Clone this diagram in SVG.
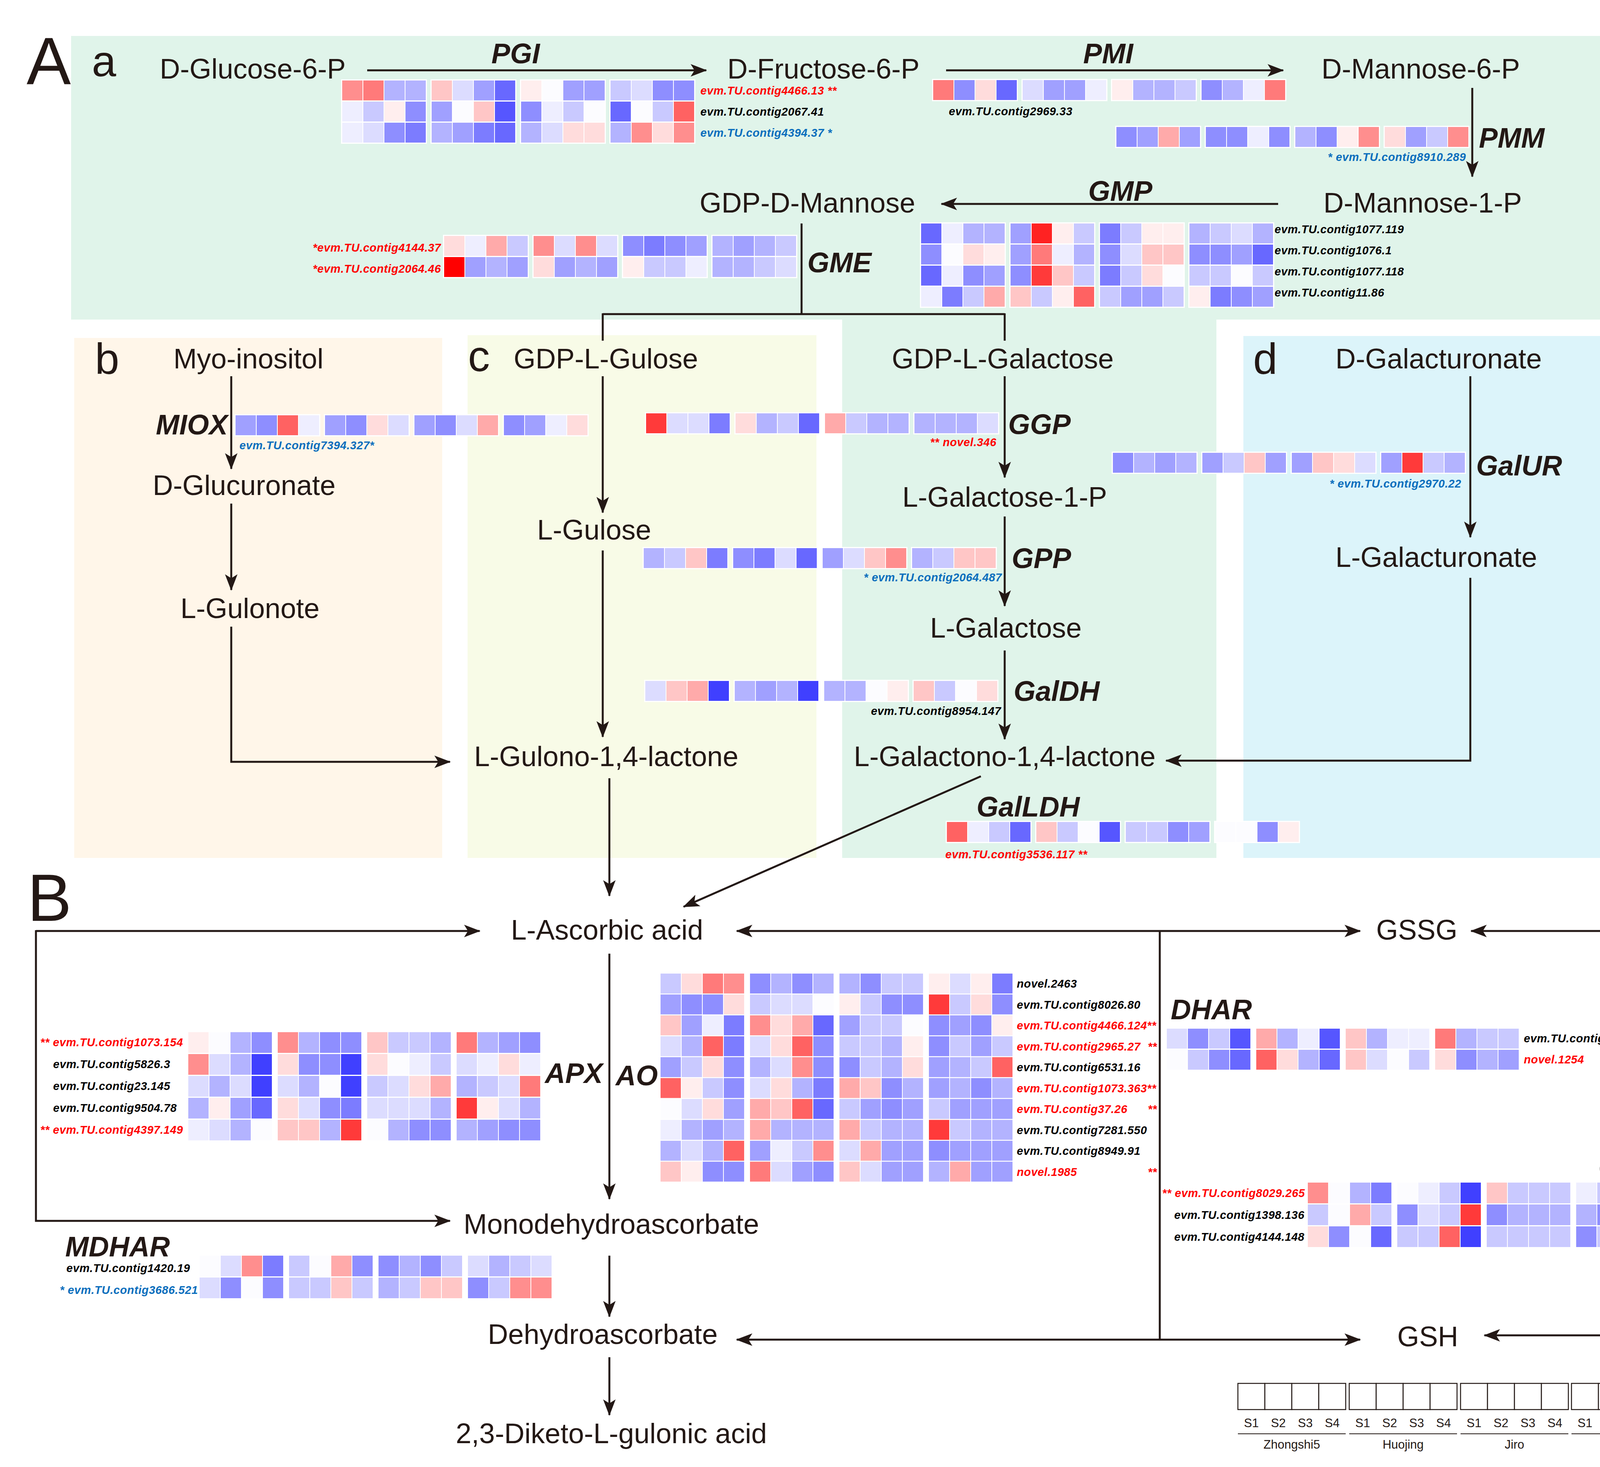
<svg xmlns="http://www.w3.org/2000/svg" width="4379" height="3755" viewBox="0 0 4379 3755">
<style>
text{font-family:"Liberation Sans",Arial,sans-serif}
.n{font-size:72px;fill:#231815;text-anchor:middle}
.e{font-size:72px;fill:#231815;font-weight:bold;font-style:italic}
.pl{font-size:170px;fill:#231815}
.sl{font-size:112px;fill:#231815}
.l{font-size:29px;font-weight:bold;font-style:italic;fill:#000;letter-spacing:0.6px}
.red{fill:#ff0000}.blu{fill:#0a6ebd}
.end{text-anchor:end}.mid{text-anchor:middle}
.hm .fr{fill:#fff}
.rw rect{width:52px;height:51px}
.tall .rw rect{height:53px}
.r9{fill:#ff0000}.r8{fill:#ff2222}.r7{fill:#ff3a3a}.r6{fill:#ff6262}.r5{fill:#ff7a7a}.r4{fill:#ff8e8e}.r3{fill:#ffaaaa}.r2{fill:#ffc6c6}.r1{fill:#ffdcdc}.r0{fill:#ffeeee}
.w{fill:#fcfcff}.b0{fill:#eeeeff}.b1{fill:#dcdcff}.b2{fill:#c9c9ff}.b3{fill:#b3b3ff}.b4{fill:#a0a0ff}.b5{fill:#8e8eff}.b6{fill:#7c7cff}.b7{fill:#6868ff}.b8{fill:#5656ff}.b9{fill:#4040ff}
.cn path{fill:none;stroke:#231815;stroke-width:5}
.ar{marker-end:url(#ah)}
.ar2{marker-start:url(#ah);marker-end:url(#ah)}
.lg rect{fill:#fff;stroke:#231815;stroke-width:2.5}
.lg text{font-size:31px;fill:#231815;text-anchor:middle}
.lg line{stroke:#231815;stroke-width:2}
.cb text{font-size:58px;fill:#231815}
</style>
<defs>
<marker id="ah" markerUnits="userSpaceOnUse" markerWidth="44" markerHeight="36" viewBox="0 0 44 36" refX="40" refY="18" orient="auto-start-reverse"><path d="M0,2 L42,18 L0,34 L10,18 Z" fill="#231815"/></marker>
<linearGradient id="cbg" x1="0" y1="0" x2="0" y2="1">
<stop offset="0" stop-color="#ff0000"/><stop offset="0.25" stop-color="#ff9a9a"/><stop offset="0.5" stop-color="#ffffff"/><stop offset="0.75" stop-color="#9a9aff"/><stop offset="1" stop-color="#1a1aff"/>
</linearGradient>
</defs>
<rect width="4379" height="3755" fill="#fff"/>
<g id="panels">
<path d="M182,92 H4097 V818 H3114 V2196 H2156 V818 H182 Z" fill="#e0f4ea"/>
<rect x="190" y="865" width="942" height="1331" fill="#fff6e9"/>
<rect x="1197" y="858" width="893" height="1338" fill="#f8fbe7"/>
<rect x="3183" y="860" width="914" height="1336" fill="#dcf4fa"/>
</g>
<g id="panel-labels">
<text class="pl" x="68" y="215">A</text>
<text class="sl" x="235" y="195">a</text>
<text class="sl" x="243" y="957">b</text>
<text class="sl" x="1198" y="950">c</text>
<text class="sl" x="3208" y="957">d</text>
<text class="pl" x="70" y="2357">B</text>
</g>
<g id="connectors" class="cn">
<path class="ar" d="M940,180 H1808"/>
<path class="ar" d="M2422,180 H3285"/>
<path class="ar" d="M3769,225 V452"/>
<path class="ar" d="M3272,522 H2410"/>
<path d="M2052,572 V804 M1543,804 H2572 M1543,802 V872 M2572,802 V872"/>
<path class="ar" d="M592,963 V1200"/>
<path class="ar" d="M592,1289 V1510"/>
<path class="ar" d="M592,1604 V1950 H1152"/>
<path class="ar" d="M1543,963 V1312"/>
<path class="ar" d="M1543,1409 V1886"/>
<path class="ar" d="M2572,963 V1222"/>
<path class="ar" d="M2572,1322 V1551"/>
<path class="ar" d="M2572,1665 V1892"/>
<path class="ar" d="M3764,963 V1375"/>
<path class="ar" d="M3764,1479 V1947 H2985"/>
<path class="ar" d="M2511,1987 L1750,2321"/>
<path class="ar" d="M1560,1992 V2293"/>
<path class="ar" d="M92,2383 H1228"/>
<path class="ar" d="M92,2381 V3125 H1152"/>
<path class="ar" d="M1560,2441 V3069"/>
<path class="ar" d="M1560,3214 V3370"/>
<path class="ar" d="M1560,3474 V3622"/>
<path class="ar2" d="M1886,2383 H3482"/>
<path class="ar2" d="M1886,3429 H3482"/>
<path d="M2969,2383 V3429"/>
<path class="ar2" d="M3766,2383 H4277 V3418 H3800"/>
</g>
<g id="n-glc6p"><text class="n" x="647" y="201">D-Glucose-6-P</text></g>
<g id="n-fru6p"><text class="n" x="2108" y="201">D-Fructose-6-P</text></g>
<g id="n-man6p"><text class="n" x="3637" y="201">D-Mannose-6-P</text></g>
<g id="n-man1p"><text class="n" x="3642" y="544">D-Mannose-1-P</text></g>
<g id="n-gdpman"><text class="n" x="2067" y="544">GDP-D-Mannose</text></g>
<g id="n-myo"><text class="n" x="636" y="943">Myo-inositol</text></g>
<g id="n-gdpgul"><text class="n" x="1551" y="943">GDP-L-Gulose</text></g>
<g id="n-gdpgal"><text class="n" x="2567" y="943">GDP-L-Galactose</text></g>
<g id="n-dgalur"><text class="n" x="3683" y="943">D-Galacturonate</text></g>
<g id="n-glcur"><text class="n" x="625" y="1267">D-Glucuronate</text></g>
<g id="n-gulonote"><text class="n" x="640" y="1582">L-Gulonote</text></g>
<g id="n-lgul"><text class="n" x="1521" y="1381">L-Gulose</text></g>
<g id="n-gal1p"><text class="n" x="2572" y="1297">L-Galactose-1-P</text></g>
<g id="n-lgal"><text class="n" x="2575" y="1632">L-Galactose</text></g>
<g id="n-gulono"><text class="n" x="1552" y="1961">L-Gulono-1,4-lactone</text></g>
<g id="n-galono"><text class="n" x="2572" y="1961">L-Galactono-1,4-lactone</text></g>
<g id="n-lgalur"><text class="n" x="3677" y="1451">L-Galacturonate</text></g>
<g id="n-asa"><text class="n" x="1554" y="2405">L-Ascorbic acid</text></g>
<g id="n-gssg"><text class="n" x="3627" y="2405">GSSG</text></g>
<g id="n-mdha"><text class="n" x="1565" y="3158">Monodehydroascorbate</text></g>
<g id="n-dha"><text class="n" x="1543" y="3440">Dehydroascorbate</text></g>
<g id="n-gsh"><text class="n" x="3655" y="3446">GSH</text></g>
<g id="n-dkg"><text class="n" x="1565" y="3694">2,3-Diketo-L-gulonic acid</text></g>

<g id="pgi">
<text class="e mid" x="1320" y="162">PGI</text>
<g class="hm" transform="translate(876,206)">
<rect class="fr" x="-3" y="-3" width="220" height="165"/><rect class="fr" x="226" y="-3" width="220" height="165"/><rect class="fr" x="455" y="-3" width="220" height="165"/><rect class="fr" x="684" y="-3" width="220" height="165"/>
<g class="rw"><rect x="0" class="r4"/><rect x="54" class="r5"/><rect x="108" class="b3"/><rect x="162" class="b3"/><rect x="229" class="r2"/><rect x="283" class="b1"/><rect x="337" class="b4"/><rect x="391" class="b7"/><rect x="458" class="r0"/><rect x="512" class="w"/><rect x="566" class="b4"/><rect x="620" class="b4"/><rect x="687" class="b2"/><rect x="741" class="b1"/><rect x="795" class="b5"/><rect x="849" class="b5"/></g>
<g class="rw" transform="translate(0,54)"><rect x="0" class="b0"/><rect x="54" class="b2"/><rect x="108" class="r0"/><rect x="162" class="b5"/><rect x="229" class="b4"/><rect x="283" class="w"/><rect x="337" class="r2"/><rect x="391" class="b8"/><rect x="458" class="b5"/><rect x="512" class="b0"/><rect x="566" class="b2"/><rect x="620" class="w"/><rect x="687" class="b7"/><rect x="741" class="w"/><rect x="795" class="b2"/><rect x="849" class="r6"/></g>
<g class="rw" transform="translate(0,108)"><rect x="0" class="b0"/><rect x="54" class="b1"/><rect x="108" class="b5"/><rect x="162" class="b6"/><rect x="229" class="b3"/><rect x="283" class="b4"/><rect x="337" class="b6"/><rect x="391" class="b7"/><rect x="458" class="b3"/><rect x="512" class="b1"/><rect x="566" class="r1"/><rect x="620" class="r1"/><rect x="687" class="b3"/><rect x="741" class="r4"/><rect x="795" class="r1"/><rect x="849" class="r4"/></g>
</g>
<text class="l red" x="1793" y="242">evm.TU.contig4466.13 **</text>
<text class="l" x="1793" y="296">evm.TU.contig2067.41</text>
<text class="l blu" x="1793" y="350">evm.TU.contig4394.37 *</text>
</g>

<g id="pmi">
<text class="e mid" x="2837" y="162">PMI</text>
<g class="hm" transform="translate(2389,205)">
<rect class="fr" x="-3" y="-3" width="220" height="57"/><rect class="fr" x="226" y="-3" width="220" height="57"/><rect class="fr" x="455" y="-3" width="220" height="57"/><rect class="fr" x="684" y="-3" width="220" height="57"/>
<g class="rw"><rect x="0" class="r5"/><rect x="54" class="b5"/><rect x="108" class="r1"/><rect x="162" class="b7"/><rect x="229" class="b1"/><rect x="283" class="b4"/><rect x="337" class="b4"/><rect x="391" class="b0"/><rect x="458" class="r0"/><rect x="512" class="b3"/><rect x="566" class="b3"/><rect x="620" class="b2"/><rect x="687" class="b5"/><rect x="741" class="b3"/><rect x="795" class="b0"/><rect x="849" class="r5"/></g>
</g>
<text class="l" x="2429" y="295">evm.TU.contig2969.33</text>
</g>

<g id="pmm">
<text class="e" x="3786" y="378">PMM</text>
<g class="hm" transform="translate(2858,325)">
<rect class="fr" x="-3" y="-3" width="220" height="57"/><rect class="fr" x="226" y="-3" width="220" height="57"/><rect class="fr" x="455" y="-3" width="220" height="57"/><rect class="fr" x="684" y="-3" width="220" height="57"/>
<g class="rw"><rect x="0" class="b5"/><rect x="54" class="b4"/><rect x="108" class="r3"/><rect x="162" class="b4"/><rect x="229" class="b5"/><rect x="283" class="b5"/><rect x="337" class="b0"/><rect x="391" class="b5"/><rect x="458" class="b3"/><rect x="512" class="b5"/><rect x="566" class="r0"/><rect x="620" class="r4"/><rect x="687" class="r1"/><rect x="741" class="b4"/><rect x="795" class="b2"/><rect x="849" class="r4"/></g>
</g>
<text class="l blu end" x="3753" y="412">* evm.TU.contig8910.289</text>
</g>

<g id="gmp">
<text class="e mid" x="2868" y="514">GMP</text>
<g class="hm" transform="translate(2358,572)">
<rect class="fr" x="-3" y="-3" width="220" height="219"/><rect class="fr" x="226" y="-3" width="220" height="219"/><rect class="fr" x="455" y="-3" width="220" height="219"/><rect class="fr" x="684" y="-3" width="220" height="219"/>
<g class="rw"><rect x="0" class="b7"/><rect x="54" class="b0"/><rect x="108" class="b3"/><rect x="162" class="b3"/><rect x="229" class="b4"/><rect x="283" class="r8"/><rect x="337" class="r0"/><rect x="391" class="b2"/><rect x="458" class="b6"/><rect x="512" class="b2"/><rect x="566" class="r0"/><rect x="620" class="r0"/><rect x="687" class="b3"/><rect x="741" class="b2"/><rect x="795" class="b1"/><rect x="849" class="b3"/></g>
<g class="rw" transform="translate(0,54)"><rect x="0" class="b5"/><rect x="54" class="w"/><rect x="108" class="r1"/><rect x="162" class="r0"/><rect x="229" class="b4"/><rect x="283" class="r5"/><rect x="337" class="b0"/><rect x="391" class="b3"/><rect x="458" class="b5"/><rect x="512" class="b1"/><rect x="566" class="r2"/><rect x="620" class="r2"/><rect x="687" class="b5"/><rect x="741" class="b5"/><rect x="795" class="b4"/><rect x="849" class="b7"/></g>
<g class="rw" transform="translate(0,108)"><rect x="0" class="b7"/><rect x="54" class="b0"/><rect x="108" class="b5"/><rect x="162" class="b4"/><rect x="229" class="b5"/><rect x="283" class="r7"/><rect x="337" class="r2"/><rect x="391" class="b2"/><rect x="458" class="b6"/><rect x="512" class="b2"/><rect x="566" class="r1"/><rect x="620" class="w"/><rect x="687" class="b2"/><rect x="741" class="b2"/><rect x="795" class="w"/><rect x="849" class="b2"/></g>
<g class="rw" transform="translate(0,162)"><rect x="0" class="b0"/><rect x="54" class="b6"/><rect x="108" class="b2"/><rect x="162" class="r3"/><rect x="229" class="r2"/><rect x="283" class="b2"/><rect x="337" class="r0"/><rect x="391" class="r6"/><rect x="458" class="b2"/><rect x="512" class="b4"/><rect x="566" class="b4"/><rect x="620" class="b2"/><rect x="687" class="r0"/><rect x="741" class="b6"/><rect x="795" class="b5"/><rect x="849" class="b4"/></g>
</g>
<text class="l" x="3263" y="597">evm.TU.contig1077.119</text>
<text class="l" x="3263" y="651">evm.TU.contig1076.1</text>
<text class="l" x="3263" y="705">evm.TU.contig1077.118</text>
<text class="l" x="3263" y="759">evm.TU.contig11.86</text>
</g>

<g id="gme">
<text class="e" x="2067" y="697">GME</text>
<g class="hm" transform="translate(1137,604)">
<rect class="fr" x="-3" y="-3" width="220" height="111"/><rect class="fr" x="226" y="-3" width="220" height="111"/><rect class="fr" x="455" y="-3" width="220" height="111"/><rect class="fr" x="684" y="-3" width="220" height="111"/>
<g class="rw"><rect x="0" class="r1"/><rect x="54" class="b0"/><rect x="108" class="r3"/><rect x="162" class="b2"/><rect x="229" class="r4"/><rect x="283" class="b1"/><rect x="337" class="r4"/><rect x="391" class="b1"/><rect x="458" class="b5"/><rect x="512" class="b6"/><rect x="566" class="b5"/><rect x="620" class="b4"/><rect x="687" class="b3"/><rect x="741" class="b4"/><rect x="795" class="b3"/><rect x="849" class="b2"/></g>
<g class="rw" transform="translate(0,54)"><rect x="0" class="r9"/><rect x="54" class="b4"/><rect x="108" class="b3"/><rect x="162" class="b4"/><rect x="229" class="r1"/><rect x="283" class="b4"/><rect x="337" class="b3"/><rect x="391" class="b4"/><rect x="458" class="r0"/><rect x="512" class="b2"/><rect x="566" class="b2"/><rect x="620" class="b0"/><rect x="687" class="b3"/><rect x="741" class="b3"/><rect x="795" class="b2"/><rect x="849" class="b1"/></g>
</g>
<text class="l red end" x="1129" y="644">*evm.TU.contig4144.37</text>
<text class="l red end" x="1129" y="698">*evm.TU.contig2064.46</text>
</g>

<g id="miox">
<text class="e end" x="583" y="1112">MIOX</text>
<g class="hm" transform="translate(603,1063)">
<rect class="fr" x="-3" y="-3" width="220" height="57"/><rect class="fr" x="226" y="-3" width="220" height="57"/><rect class="fr" x="455" y="-3" width="220" height="57"/><rect class="fr" x="684" y="-3" width="220" height="57"/>
<g class="rw"><rect x="0" class="b4"/><rect x="54" class="b5"/><rect x="108" class="r6"/><rect x="162" class="b0"/><rect x="229" class="b4"/><rect x="283" class="b5"/><rect x="337" class="r1"/><rect x="391" class="b1"/><rect x="458" class="b4"/><rect x="512" class="b5"/><rect x="566" class="b1"/><rect x="620" class="r3"/><rect x="687" class="b5"/><rect x="741" class="b4"/><rect x="795" class="b0"/><rect x="849" class="r1"/></g>
</g>
<text class="l blu" x="613" y="1150">evm.TU.contig7394.327*</text>
</g>

<g id="ggp">
<text class="e" x="2581" y="1111">GGP</text>
<g class="hm" transform="translate(1654,1058)">
<rect class="fr" x="-3" y="-3" width="220" height="57"/><rect class="fr" x="226" y="-3" width="220" height="57"/><rect class="fr" x="455" y="-3" width="220" height="57"/><rect class="fr" x="684" y="-3" width="220" height="57"/>
<g class="rw"><rect x="0" class="r7"/><rect x="54" class="b1"/><rect x="108" class="b1"/><rect x="162" class="b6"/><rect x="229" class="r1"/><rect x="283" class="b3"/><rect x="337" class="b2"/><rect x="391" class="b7"/><rect x="458" class="r3"/><rect x="512" class="b2"/><rect x="566" class="b3"/><rect x="620" class="b3"/><rect x="687" class="b3"/><rect x="741" class="b3"/><rect x="795" class="b3"/><rect x="849" class="b1"/></g>
</g>
<text class="l red end" x="2551" y="1142">** novel.346</text>
</g>

<g id="galur">
<text class="e" x="3779" y="1217">GalUR</text>
<g class="hm" transform="translate(2849,1159)">
<rect class="fr" x="-3" y="-3" width="220" height="57"/><rect class="fr" x="226" y="-3" width="220" height="57"/><rect class="fr" x="455" y="-3" width="220" height="57"/><rect class="fr" x="684" y="-3" width="220" height="57"/>
<g class="rw"><rect x="0" class="b5"/><rect x="54" class="b3"/><rect x="108" class="b4"/><rect x="162" class="b3"/><rect x="229" class="b4"/><rect x="283" class="b2"/><rect x="337" class="r2"/><rect x="391" class="b4"/><rect x="458" class="b4"/><rect x="512" class="r2"/><rect x="566" class="r1"/><rect x="620" class="b1"/><rect x="687" class="b4"/><rect x="741" class="r7"/><rect x="795" class="b2"/><rect x="849" class="b3"/></g>
</g>
<text class="l blu end" x="3741" y="1248">* evm.TU.contig2970.22</text>
</g>

<g id="gpp">
<text class="e" x="2590" y="1454">GPP</text>
<g class="hm" transform="translate(1648,1403)">
<rect class="fr" x="-3" y="-3" width="220" height="57"/><rect class="fr" x="226" y="-3" width="220" height="57"/><rect class="fr" x="455" y="-3" width="220" height="57"/><rect class="fr" x="684" y="-3" width="220" height="57"/>
<g class="rw"><rect x="0" class="b3"/><rect x="54" class="b2"/><rect x="108" class="r2"/><rect x="162" class="b6"/><rect x="229" class="b5"/><rect x="283" class="b6"/><rect x="337" class="b1"/><rect x="391" class="b7"/><rect x="458" class="b4"/><rect x="512" class="b1"/><rect x="566" class="r2"/><rect x="620" class="r4"/><rect x="687" class="b3"/><rect x="741" class="b2"/><rect x="795" class="r2"/><rect x="849" class="r2"/></g>
</g>
<text class="l blu end" x="2565" y="1488">* evm.TU.contig2064.487</text>
</g>

<g id="galdh">
<text class="e" x="2595" y="1794">GalDH</text>
<g class="hm" transform="translate(1652,1743)">
<rect class="fr" x="-3" y="-3" width="220" height="57"/><rect class="fr" x="226" y="-3" width="220" height="57"/><rect class="fr" x="455" y="-3" width="220" height="57"/><rect class="fr" x="684" y="-3" width="220" height="57"/>
<g class="rw"><rect x="0" class="b1"/><rect x="54" class="r2"/><rect x="108" class="r3"/><rect x="162" class="b9"/><rect x="229" class="b3"/><rect x="283" class="b4"/><rect x="337" class="b3"/><rect x="391" class="b9"/><rect x="458" class="b3"/><rect x="512" class="b3"/><rect x="566" class="w"/><rect x="620" class="r0"/><rect x="687" class="r2"/><rect x="741" class="b2"/><rect x="795" class="w"/><rect x="849" class="r1"/></g>
</g>
<text class="l end" x="2563" y="1830">evm.TU.contig8954.147</text>
</g>

<g id="galldh">
<text class="e" x="2500" y="2090">GalLDH</text>
<g class="hm" transform="translate(2424,2104)">
<rect class="fr" x="-3" y="-3" width="220" height="57"/><rect class="fr" x="226" y="-3" width="220" height="57"/><rect class="fr" x="455" y="-3" width="220" height="57"/><rect class="fr" x="684" y="-3" width="220" height="57"/>
<g class="rw"><rect x="0" class="r6"/><rect x="54" class="b0"/><rect x="108" class="b2"/><rect x="162" class="b7"/><rect x="229" class="r2"/><rect x="283" class="b2"/><rect x="337" class="w"/><rect x="391" class="b8"/><rect x="458" class="b2"/><rect x="512" class="b2"/><rect x="566" class="b5"/><rect x="620" class="b4"/><rect x="687" class="w"/><rect x="741" class="w"/><rect x="795" class="b5"/><rect x="849" class="r0"/></g>
</g>
<text class="l red" x="2420" y="2197">evm.TU.contig3536.117 **</text>
</g>

<g id="colorbar" class="cb">
<rect x="4144" y="1027" width="73" height="368" fill="url(#cbg)"/>
<g stroke="#e8e8e8" stroke-width="4"><path d="M4144,1044h8M4209,1044h8M4144,1128h8M4209,1128h8M4144,1212h8M4209,1212h8M4144,1296h8M4209,1296h8M4144,1380h8M4209,1380h8"/></g>
<text x="4232" y="1065">4</text>
<text x="4232" y="1149">2</text>
<text x="4232" y="1233">0</text>
<text x="4220" y="1317">−2</text>
<text x="4220" y="1401">−4</text>
</g>

<g id="apx">
<text class="e" x="1395" y="2772">APX</text>
<g class="hm tall" transform="translate(482,2642)">
<rect class="fr" x="-3" y="-3" width="220" height="283"/><rect class="fr" x="226" y="-3" width="220" height="283"/><rect class="fr" x="455" y="-3" width="220" height="283"/><rect class="fr" x="684" y="-3" width="220" height="283"/>
<g class="rw"><rect x="0" class="r0"/><rect x="54" class="w"/><rect x="108" class="b3"/><rect x="162" class="b5"/><rect x="229" class="r4"/><rect x="283" class="b3"/><rect x="337" class="b5"/><rect x="391" class="b5"/><rect x="458" class="r2"/><rect x="512" class="b2"/><rect x="566" class="b2"/><rect x="620" class="b3"/><rect x="687" class="r5"/><rect x="741" class="b3"/><rect x="795" class="b4"/><rect x="849" class="b5"/></g>
<g class="rw" transform="translate(0,56)"><rect x="0" class="r4"/><rect x="54" class="b1"/><rect x="108" class="b3"/><rect x="162" class="b9"/><rect x="229" class="r1"/><rect x="283" class="b5"/><rect x="337" class="b5"/><rect x="391" class="b9"/><rect x="458" class="r1"/><rect x="512" class="w"/><rect x="566" class="b0"/><rect x="620" class="b2"/><rect x="687" class="b1"/><rect x="741" class="b0"/><rect x="795" class="r1"/><rect x="849" class="b0"/></g>
<g class="rw" transform="translate(0,112)"><rect x="0" class="b1"/><rect x="54" class="b3"/><rect x="108" class="b1"/><rect x="162" class="b9"/><rect x="229" class="b1"/><rect x="283" class="b3"/><rect x="337" class="w"/><rect x="391" class="b9"/><rect x="458" class="b2"/><rect x="512" class="b1"/><rect x="566" class="r1"/><rect x="620" class="r3"/><rect x="687" class="b3"/><rect x="741" class="b2"/><rect x="795" class="b1"/><rect x="849" class="r5"/></g>
<g class="rw" transform="translate(0,168)"><rect x="0" class="b3"/><rect x="54" class="r0"/><rect x="108" class="b4"/><rect x="162" class="b7"/><rect x="229" class="r1"/><rect x="283" class="b1"/><rect x="337" class="b5"/><rect x="391" class="b6"/><rect x="458" class="b1"/><rect x="512" class="b1"/><rect x="566" class="b1"/><rect x="620" class="b3"/><rect x="687" class="r7"/><rect x="741" class="r0"/><rect x="795" class="b1"/><rect x="849" class="b3"/></g>
<g class="rw" transform="translate(0,224)"><rect x="0" class="b0"/><rect x="54" class="b1"/><rect x="108" class="b3"/><rect x="162" class="w"/><rect x="229" class="r2"/><rect x="283" class="r2"/><rect x="337" class="b3"/><rect x="391" class="r7"/><rect x="458" class="w"/><rect x="512" class="b3"/><rect x="566" class="b5"/><rect x="620" class="b5"/><rect x="687" class="b3"/><rect x="741" class="b4"/><rect x="795" class="b5"/><rect x="849" class="b5"/></g>
</g>
<text class="l red" x="103" y="2678">** evm.TU.contig1073.154</text>
<text class="l" x="136" y="2734">evm.TU.contig5826.3</text>
<text class="l" x="136" y="2790">evm.TU.contig23.145</text>
<text class="l" x="136" y="2846">evm.TU.contig9504.78</text>
<text class="l red" x="103" y="2902">** evm.TU.contig4397.149</text>
</g>

<g id="ao">
<text class="e" x="1576" y="2778">AO</text>
<g class="hm" transform="translate(1691,2492)">
<rect class="fr" x="-3" y="-3" width="220" height="538"/><rect class="fr" x="226" y="-3" width="220" height="538"/><rect class="fr" x="455" y="-3" width="220" height="538"/><rect class="fr" x="684" y="-3" width="220" height="538"/>
<g class="rw"><rect x="0" class="b2"/><rect x="54" class="r1"/><rect x="108" class="r5"/><rect x="162" class="r4"/><rect x="229" class="b5"/><rect x="283" class="b3"/><rect x="337" class="b5"/><rect x="391" class="b3"/><rect x="458" class="b3"/><rect x="512" class="b5"/><rect x="566" class="b2"/><rect x="620" class="b2"/><rect x="687" class="r0"/><rect x="741" class="b1"/><rect x="795" class="r0"/><rect x="849" class="b6"/></g>
<g class="rw" transform="translate(0,53.5)"><rect x="0" class="b4"/><rect x="54" class="b5"/><rect x="108" class="b5"/><rect x="162" class="r1"/><rect x="229" class="b2"/><rect x="283" class="b1"/><rect x="337" class="b1"/><rect x="391" class="w"/><rect x="458" class="r0"/><rect x="512" class="b2"/><rect x="566" class="b5"/><rect x="620" class="b5"/><rect x="687" class="r7"/><rect x="741" class="b2"/><rect x="795" class="r1"/><rect x="849" class="b5"/></g>
<g class="rw" transform="translate(0,107)"><rect x="0" class="r2"/><rect x="54" class="b4"/><rect x="108" class="b0"/><rect x="162" class="b6"/><rect x="229" class="r4"/><rect x="283" class="r1"/><rect x="337" class="r3"/><rect x="391" class="b7"/><rect x="458" class="b4"/><rect x="512" class="b2"/><rect x="566" class="b2"/><rect x="620" class="w"/><rect x="687" class="b5"/><rect x="741" class="b4"/><rect x="795" class="b5"/><rect x="849" class="r0"/></g>
<g class="rw" transform="translate(0,160.5)"><rect x="0" class="b1"/><rect x="54" class="b3"/><rect x="108" class="r6"/><rect x="162" class="b6"/><rect x="229" class="b1"/><rect x="283" class="r1"/><rect x="337" class="r6"/><rect x="391" class="b5"/><rect x="458" class="b2"/><rect x="512" class="b2"/><rect x="566" class="b3"/><rect x="620" class="r0"/><rect x="687" class="b5"/><rect x="741" class="b2"/><rect x="795" class="b4"/><rect x="849" class="b2"/></g>
<g class="rw" transform="translate(0,214)"><rect x="0" class="b4"/><rect x="54" class="b2"/><rect x="108" class="r1"/><rect x="162" class="b5"/><rect x="229" class="b3"/><rect x="283" class="b1"/><rect x="337" class="r4"/><rect x="391" class="b5"/><rect x="458" class="b5"/><rect x="512" class="b2"/><rect x="566" class="b3"/><rect x="620" class="r1"/><rect x="687" class="b4"/><rect x="741" class="b3"/><rect x="795" class="b2"/><rect x="849" class="r6"/></g>
<g class="rw" transform="translate(0,267.5)"><rect x="0" class="r6"/><rect x="54" class="r0"/><rect x="108" class="b2"/><rect x="162" class="b5"/><rect x="229" class="b1"/><rect x="283" class="r1"/><rect x="337" class="b3"/><rect x="391" class="b6"/><rect x="458" class="r3"/><rect x="512" class="r2"/><rect x="566" class="b5"/><rect x="620" class="b3"/><rect x="687" class="b4"/><rect x="741" class="b3"/><rect x="795" class="b5"/><rect x="849" class="b3"/></g>
<g class="rw" transform="translate(0,321)"><rect x="0" class="w"/><rect x="54" class="b1"/><rect x="108" class="r1"/><rect x="162" class="b4"/><rect x="229" class="r3"/><rect x="283" class="r2"/><rect x="337" class="r6"/><rect x="391" class="b7"/><rect x="458" class="b2"/><rect x="512" class="b4"/><rect x="566" class="b5"/><rect x="620" class="b4"/><rect x="687" class="b2"/><rect x="741" class="b4"/><rect x="795" class="b4"/><rect x="849" class="b4"/></g>
<g class="rw" transform="translate(0,374.5)"><rect x="0" class="b0"/><rect x="54" class="b3"/><rect x="108" class="b4"/><rect x="162" class="b3"/><rect x="229" class="r3"/><rect x="283" class="b3"/><rect x="337" class="b3"/><rect x="391" class="b3"/><rect x="458" class="r3"/><rect x="512" class="b2"/><rect x="566" class="b3"/><rect x="620" class="b3"/><rect x="687" class="r7"/><rect x="741" class="b2"/><rect x="795" class="b3"/><rect x="849" class="b3"/></g>
<g class="rw" transform="translate(0,428)"><rect x="0" class="b3"/><rect x="54" class="b1"/><rect x="108" class="b3"/><rect x="162" class="r6"/><rect x="229" class="b4"/><rect x="283" class="b0"/><rect x="337" class="b2"/><rect x="391" class="r4"/><rect x="458" class="b1"/><rect x="512" class="r3"/><rect x="566" class="b4"/><rect x="620" class="b4"/><rect x="687" class="b5"/><rect x="741" class="b4"/><rect x="795" class="b4"/><rect x="849" class="b4"/></g>
<g class="rw" transform="translate(0,481.5)"><rect x="0" class="r2"/><rect x="54" class="r0"/><rect x="108" class="b5"/><rect x="162" class="b5"/><rect x="229" class="r5"/><rect x="283" class="b1"/><rect x="337" class="b4"/><rect x="391" class="b5"/><rect x="458" class="r2"/><rect x="512" class="b1"/><rect x="566" class="b4"/><rect x="620" class="b4"/><rect x="687" class="b3"/><rect x="741" class="r3"/><rect x="795" class="b4"/><rect x="849" class="b4"/></g>
</g>
<text class="l" x="2603" y="2528">novel.2463</text>
<text class="l" x="2603" y="2581.5">evm.TU.contig8026.80</text>
<text class="l red" x="2603" y="2635">evm.TU.contig4466.124**</text>
<text class="l red" x="2603" y="2688.5">evm.TU.contig2965.27</text><text class="l red end" x="2962" y="2688.5">**</text>
<text class="l" x="2603" y="2742">evm.TU.contig6531.16</text>
<text class="l red" x="2603" y="2795.5">evm.TU.contig1073.363**</text>
<text class="l red" x="2603" y="2849">evm.TU.contig37.26</text><text class="l red end" x="2962" y="2849">**</text>
<text class="l" x="2603" y="2902.5">evm.TU.contig7281.550</text>
<text class="l" x="2603" y="2956">evm.TU.contig8949.91</text>
<text class="l red" x="2603" y="3009.5">novel.1985</text><text class="l red end" x="2962" y="3009.5">**</text>
</g>

<g id="dhar">
<text class="e" x="2997" y="2609">DHAR</text>
<g class="hm" transform="translate(2987,2633)">
<rect class="fr" x="-3" y="-3" width="220" height="111"/><rect class="fr" x="226" y="-3" width="220" height="111"/><rect class="fr" x="455" y="-3" width="220" height="111"/><rect class="fr" x="684" y="-3" width="220" height="111"/>
<g class="rw"><rect x="0" class="b1"/><rect x="54" class="b5"/><rect x="108" class="b2"/><rect x="162" class="b8"/><rect x="229" class="r3"/><rect x="283" class="b3"/><rect x="337" class="b0"/><rect x="391" class="b8"/><rect x="458" class="r2"/><rect x="512" class="b3"/><rect x="566" class="b0"/><rect x="620" class="b0"/><rect x="687" class="r5"/><rect x="741" class="b3"/><rect x="795" class="b2"/><rect x="849" class="b2"/></g>
<g class="rw" transform="translate(0,54)"><rect x="0" class="w"/><rect x="54" class="b2"/><rect x="108" class="b5"/><rect x="162" class="b7"/><rect x="229" class="r6"/><rect x="283" class="r1"/><rect x="337" class="b3"/><rect x="391" class="b7"/><rect x="458" class="r2"/><rect x="512" class="b1"/><rect x="566" class="w"/><rect x="620" class="b2"/><rect x="687" class="r1"/><rect x="741" class="b5"/><rect x="795" class="b3"/><rect x="849" class="b4"/></g>
</g>
<text class="l" x="3901" y="2668">evm.TU.contig1060.152</text>
<text class="l red" x="3901" y="2722">novel.1254</text><text class="l red end" x="4203" y="2722">**</text>
</g>

<g id="gr">
<text class="e mid" x="4146" y="3013">GR</text>
<g class="hm tall" transform="translate(3348,3027)">
<rect class="fr" x="-3" y="-3" width="220" height="171"/><rect class="fr" x="226" y="-3" width="220" height="171"/><rect class="fr" x="455" y="-3" width="220" height="171"/><rect class="fr" x="684" y="-3" width="220" height="171"/>
<g class="rw"><rect x="0" class="r4"/><rect x="54" class="w"/><rect x="108" class="b3"/><rect x="162" class="b6"/><rect x="229" class="w"/><rect x="283" class="b0"/><rect x="337" class="b2"/><rect x="391" class="b9"/><rect x="458" class="r2"/><rect x="512" class="b2"/><rect x="566" class="b2"/><rect x="620" class="b2"/><rect x="687" class="b0"/><rect x="741" class="b2"/><rect x="795" class="b5"/><rect x="849" class="b2"/></g>
<g class="rw" transform="translate(0,56)"><rect x="0" class="b2"/><rect x="54" class="w"/><rect x="108" class="r3"/><rect x="162" class="b2"/><rect x="229" class="b5"/><rect x="283" class="b1"/><rect x="337" class="b2"/><rect x="391" class="r7"/><rect x="458" class="b5"/><rect x="512" class="b3"/><rect x="566" class="b3"/><rect x="620" class="b3"/><rect x="687" class="b3"/><rect x="741" class="b5"/><rect x="795" class="b3"/><rect x="849" class="b3"/></g>
<g class="rw" transform="translate(0,112)"><rect x="0" class="r1"/><rect x="54" class="b5"/><rect x="108" class="w"/><rect x="162" class="b7"/><rect x="229" class="b2"/><rect x="283" class="b2"/><rect x="337" class="r6"/><rect x="391" class="b9"/><rect x="458" class="b2"/><rect x="512" class="b2"/><rect x="566" class="b2"/><rect x="620" class="b2"/><rect x="687" class="b5"/><rect x="741" class="b2"/><rect x="795" class="b2"/><rect x="849" class="r1"/></g>
</g>
<text class="l red" x="2975" y="3064">** evm.TU.contig8029.265</text>
<text class="l" x="3006" y="3120">evm.TU.contig1398.136</text>
<text class="l" x="3006" y="3176">evm.TU.contig4144.148</text>
</g>

<g id="mdhar">
<text class="e" x="167" y="3216">MDHAR</text>
<g class="hm tall" transform="translate(511,3214)">
<rect class="fr" x="-3" y="-3" width="220" height="115"/><rect class="fr" x="226" y="-3" width="220" height="115"/><rect class="fr" x="455" y="-3" width="220" height="115"/><rect class="fr" x="684" y="-3" width="220" height="115"/>
<g class="rw"><rect x="0" class="w"/><rect x="54" class="b1"/><rect x="108" class="r4"/><rect x="162" class="b6"/><rect x="229" class="b2"/><rect x="283" class="w"/><rect x="337" class="r3"/><rect x="391" class="b5"/><rect x="458" class="b5"/><rect x="512" class="b3"/><rect x="566" class="b5"/><rect x="620" class="b2"/><rect x="687" class="b1"/><rect x="741" class="b3"/><rect x="795" class="b2"/><rect x="849" class="b1"/></g>
<g class="rw" transform="translate(0,56)"><rect x="0" class="b1"/><rect x="54" class="b5"/><rect x="108" class="w"/><rect x="162" class="b5"/><rect x="229" class="b2"/><rect x="283" class="b2"/><rect x="337" class="r2"/><rect x="391" class="b2"/><rect x="458" class="b3"/><rect x="512" class="b2"/><rect x="566" class="r2"/><rect x="620" class="r2"/><rect x="687" class="b5"/><rect x="741" class="b2"/><rect x="795" class="r4"/><rect x="849" class="r4"/></g>
</g>
<text class="l" x="170" y="3256">evm.TU.contig1420.19</text>
<text class="l blu" x="153" y="3312">* evm.TU.contig3686.521</text>
</g>

<g id="legend" class="lg">
<rect x="3169" y="3541" width="69" height="67"/><rect x="3238" y="3541" width="69" height="67"/><rect x="3307" y="3541" width="69" height="67"/><rect x="3376" y="3541" width="69" height="67"/>
<rect x="3454" y="3541" width="69" height="67"/><rect x="3523" y="3541" width="69" height="67"/><rect x="3592" y="3541" width="69" height="67"/><rect x="3661" y="3541" width="69" height="67"/>
<rect x="3739" y="3541" width="69" height="67"/><rect x="3808" y="3541" width="69" height="67"/><rect x="3877" y="3541" width="69" height="67"/><rect x="3946" y="3541" width="69" height="67"/>
<rect x="4023" y="3541" width="69" height="67"/><rect x="4092" y="3541" width="69" height="67"/><rect x="4161" y="3541" width="69" height="67"/><rect x="4230" y="3541" width="69" height="67"/>
<text x="3203.5" y="3653">S1</text><text x="3272.5" y="3653">S2</text><text x="3341.5" y="3653">S3</text><text x="3410.5" y="3653">S4</text>
<text x="3488.5" y="3653">S1</text><text x="3557.5" y="3653">S2</text><text x="3626.5" y="3653">S3</text><text x="3695.5" y="3653">S4</text>
<text x="3773.5" y="3653">S1</text><text x="3842.5" y="3653">S2</text><text x="3911.5" y="3653">S3</text><text x="3980.5" y="3653">S4</text>
<text x="4057.5" y="3653">S1</text><text x="4126.5" y="3653">S2</text><text x="4195.5" y="3653">S3</text><text x="4264.5" y="3653">S4</text>
<line x1="3169" y1="3670" x2="3445" y2="3670"/><line x1="3454" y1="3670" x2="3730" y2="3670"/><line x1="3739" y1="3670" x2="4015" y2="3670"/><line x1="4023" y1="3670" x2="4299" y2="3670"/>
<text x="3307" y="3708">Zhongshi5</text><text x="3592" y="3708">Huojing</text><text x="3877" y="3708">Jiro</text><text x="4161" y="3708">Yohou</text>
</g>
</svg>
